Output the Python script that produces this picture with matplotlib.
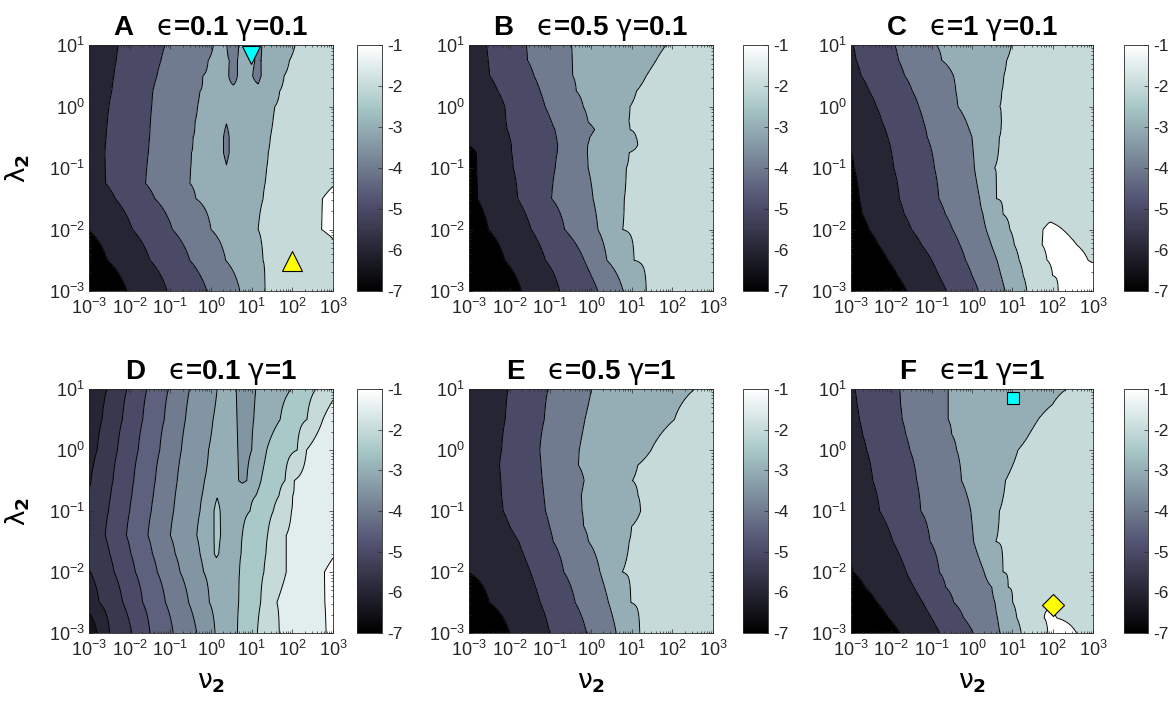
#Mapas de contorno (6 paneles) de log10 del error en el plano nu2 - lambda2
#cada fila de nudos: (log10 nu2, valor) leido del grafico a una altura log10 lambda2 fija

import numpy as np #para operaciones con arreglos
import matplotlib.pyplot as plt #para graficar
from matplotlib import cm, colors, ticker #colores, barras de color y ticks

plt.rcParams['font.family'] = ['Liberation Sans', 'DejaVu Sans']
plt.rcParams['mathtext.fontset'] = 'dejavusans' #letras griegas (los ticks usan \mathdefault -> Liberation Sans)
plt.rcParams['axes.unicode_minus'] = False

#niveles de contorno
niveles_1 = [-6, -5, -4, -3, -2, -1] #paneles A, B, C, E, F
niveles_05 = [-6.5, -6, -5.5, -5, -4.5, -4, -3.5, -3, -2.5, -2, -1.5, -1] #panel D

#---------------- Panel A (eps=0.1, gamma=0.1)
A_y = [1.0, 0.75, 0.5, 0.25, 0.0, -0.25, -0.5, -0.75, -1.0, -1.25, -1.5, -2.0, -2.5, -3.0]
A_nudos = [
    [(-3, -5.63), (-2.28, -5), (-1.13, -4), (0.06, -3), (0.28, -2.88), (0.39, -3), (0.55, -3.5), (0.68, -3), (0.86, -2.75), (1.04, -3), (1.15, -3.45), (1.25, -3), (1.5, -2.6), (2.07, -2), (3, -1.5)],
    [(-3, -5.6), (-2.33, -5), (-1.23, -4), (-0.07, -3), (0.3, -2.88), (0.45, -3), (0.55, -3.4), (0.65, -3), (0.86, -2.72), (1.08, -3), (1.16, -3.35), (1.23, -3), (1.5, -2.55), (1.93, -2), (3, -1.45)],
    [(-3, -5.55), (-2.39, -5), (-1.33, -4), (-0.20, -3), (0.38, -2.9), (0.55, -3.2), (0.8, -2.7), (1.16, -3.18), (1.42, -2.55), (1.80, -2), (3, -1.4)],
    [(-3, -5.5), (-2.44, -5), (-1.43, -4), (-0.27, -3), (0.55, -2.9), (1.16, -2.88), (1.69, -2), (3, -1.35)],
    [(-3, -5.47), (-2.51, -5), (-1.46, -4), (-0.33, -3), (1.57, -2), (3, -1.3)],
    [(-3, -5.45), (-2.55, -5), (-1.49, -4), (-0.39, -3), (0.25, -2.75), (0.38, -2.97), (0.5, -2.75), (1.52, -2), (3, -1.3)],
    [(-3, -5.42), (-2.58, -5), (-1.51, -4), (-0.44, -3), (0.25, -2.88), (0.38, -3.15), (0.5, -2.88), (1.46, -2), (3, -1.3)],
    [(-3, -5.4), (-2.61, -5), (-1.54, -4), (-0.48, -3), (0.25, -2.88), (0.38, -3.15), (0.5, -2.88), (1.41, -2), (3, -1.3)],
    [(-3, -5.39), (-2.60, -5), (-1.58, -4), (-0.50, -3), (0.25, -2.8), (0.38, -2.97), (0.5, -2.8), (1.37, -2), (3, -1.28)],
    [(-3, -5.4), (-2.59, -5), (-1.61, -4), (-0.52, -3), (1.33, -2), (3, -1.05)],
    [(-3, -5.67), (-2.35, -5), (-1.38, -4), (-0.37, -3), (1.28, -2), (2.74, -1), (3, -0.85)],
    [(-3, -5.97), (-1.93, -5), (-0.95, -4), (0.0, -3), (1.16, -2), (2.72, -1), (3, -0.85)],
    [(-3, -6.45), (-2.55, -6), (-1.50, -5), (-0.52, -4), (0.36, -3), (1.28, -2), (3, -1.2)],
    [(-3, -6.9), (-2.07, -6), (-1.08, -5), (-0.10, -4), (0.71, -3), (1.33, -2), (3, -1.3)],
]

#---------------- Panel B (eps=0.5, gamma=0.1)
B_y = [1.0, 0.75, 0.5, 0.25, 0.0, -0.25, -0.375, -0.5, -0.625, -0.75, -1.0, -1.5, -2.0, -2.5, -3.0]
B_nudos = [
    [(-3, -5.45), (-2.57, -5), (-1.59, -4), (-0.48, -3), (1.85, -2), (3, -1.5)],
    [(-3, -5.47), (-2.53, -5), (-1.56, -4), (-0.46, -3), (1.60, -2), (3, -1.45)],
    [(-3, -5.5), (-2.49, -5), (-1.40, -4), (-0.45, -3), (1.36, -2), (3, -1.4)],
    [(-3, -5.65), (-2.29, -5), (-1.25, -4), (-0.36, -3), (1.12, -2), (3, -1.4)],
    [(-3, -5.85), (-2.12, -5), (-1.13, -4), (-0.19, -3), (0.96, -2), (3, -1.35)],
    [(-3, -5.9), (-2.09, -5), (-0.97, -4), (-0.07, -3), (0.93, -2), (3, -1.35)],
    [(-3, -5.92), (-2.06, -5), (-0.89, -4), (0.09, -3), (0.96, -2), (3, -1.35)],
    [(-3, -5.95), (-2.0, -5), (-0.85, -4), (-0.03, -3), (1.11, -2), (3, -1.35)],
    [(-3, -5.99), (-1.96, -5), (-0.82, -4), (-0.08, -3), (1.15, -2), (3, -1.35)],
    [(-3, -6.2), (-2.82, -6), (-1.95, -5), (-0.83, -4), (-0.09, -3), (0.94, -2), (3, -1.35)],
    [(-3, -6.2), (-2.81, -6), (-1.91, -5), (-0.88, -4), (-0.07, -3), (0.87, -2), (3, -1.35)],
    [(-3, -6.2), (-2.79, -6), (-1.80, -5), (-0.97, -4), (0.05, -3), (0.82, -2), (3, -1.4)],
    [(-3, -6.45), (-2.52, -6), (-1.47, -5), (-0.65, -4), (0.17, -3), (0.78, -2), (3, -1.4)],
    [(-3, -6.85), (-2.12, -6), (-1.12, -5), (-0.17, -4), (0.39, -3), (1.06, -2), (3, -1.45)],
    [(-3, -7.3), (-1.71, -6), (-0.77, -5), (0.17, -4), (0.79, -3), (1.36, -2), (3, -1.5)],
]

#---------------- Panel C (eps=1, gamma=0.1)
C_y = [1.0, 0.75, 0.5, 0.25, 0.0, -0.25, -0.5, -1.0, -1.5, -1.75, -2.0, -2.25, -2.5, -2.75, -3.0]
C_nudos = [
    [(-3, -5.05), (-2.94, -5), (-1.91, -4), (-0.88, -3), (0.98, -2), (3, -1.4)],
    [(-3, -5.1), (-2.87, -5), (-1.82, -4), (-0.75, -3), (0.86, -2), (3, -1.4)],
    [(-3, -5.25), (-2.75, -5), (-1.67, -4), (-0.46, -3), (0.79, -2), (3, -1.4)],
    [(-3, -5.45), (-2.55, -5), (-1.48, -4), (-0.40, -3), (0.74, -2), (3, -1.4)],
    [(-3, -5.6), (-2.37, -5), (-1.32, -4), (-0.35, -3), (0.69, -2), (3, -1.4)],
    [(-3, -5.75), (-2.23, -5), (-1.20, -4), (-0.14, -3), (0.73, -2), (3, -1.4)],
    [(-3, -5.9), (-2.09, -5), (-1.11, -4), (0.0, -3), (0.68, -2), (3, -1.4)],
    [(-3, -6.08), (-2.92, -6), (-1.94, -5), (-0.93, -4), (0.06, -3), (0.56, -2), (3, -1.4)],
    [(-3, -6.2), (-2.79, -6), (-1.80, -5), (-0.82, -4), (0.19, -3), (0.61, -2), (3, -1.35)],
    [(-3, -6.25), (-2.72, -6), (-1.68, -5), (-0.66, -4), (0.27, -3), (0.77, -2), (1.9, -1.2), (3, -1.5)],
    [(-3, -6.4), (-2.55, -6), (-1.50, -5), (-0.48, -4), (0.35, -3), (0.94, -2), (1.76, -1), (1.95, -0.85), (2.25, -1), (3, -1.5)],
    [(-3, -6.6), (-2.32, -6), (-1.25, -5), (-0.30, -4), (0.48, -3), (1.05, -2), (1.74, -1), (2.1, -0.7), (2.60, -1), (3, -1.2)],
    [(-3, -6.85), (-2.09, -6), (-1.0, -5), (-0.16, -4), (0.62, -3), (1.17, -2), (1.86, -1), (2.4, -0.7), (2.88, -1), (3, -1.05)],
    [(-3, -7.1), (-1.85, -6), (-0.82, -5), (0.0, -4), (0.72, -3), (1.27, -2), (2.0, -1), (3, -0.8)],
    [(-3, -7.3), (-1.62, -6), (-0.63, -5), (0.16, -4), (0.82, -3), (1.36, -2), (2.14, -1), (3, -0.7)],
]

#---------------- Panel D (eps=0.1, gamma=1), niveles cada 0.5
D_y = [1.0, 0.5, 0.0, -0.5, -0.75, -1.0, -1.4, -1.7, -2.0, -2.5, -3.0]
D_nudos = [
    [(-3, -5.94), (-2.56, -5.5), (-2.07, -5), (-1.58, -4.5), (-1.05, -4), (-0.53, -3.5), (0.15, -3), (0.45, -2.9), (0.62, -3.0), (0.85, -3.25), (1.1, -3.0), (1.3, -2.85), (1.98, -2.5), (2.58, -2), (3, -1.65)],
    [(-3, -5.82), (-2.68, -5.5), (-2.18, -5), (-1.68, -4.5), (-1.15, -4), (-0.63, -3.5), (0.05, -3), (0.45, -2.88), (0.64, -3.0), (0.82, -3.22), (1.05, -3.0), (1.25, -2.85), (1.70, -2.5), (2.36, -2), (2.75, -1.5), (3, -1.35)],
    [(-3, -5.7), (-2.80, -5.5), (-2.30, -5), (-1.79, -4.5), (-1.26, -4), (-0.73, -3.5), (-0.06, -3), (0.45, -2.85), (0.66, -3.0), (0.8, -3.18), (1.0, -3.0), (1.18, -2.8), (1.37, -2.5), (2.12, -2), (2.35, -1.5), (3, -1.2)],
    [(-3, -5.55), (-2.95, -5.5), (-2.41, -5), (-1.90, -4.5), (-1.37, -4), (-0.83, -3.5), (-0.16, -3), (0.5, -2.85), (0.68, -3.0), (0.77, -3.1), (0.88, -3.0), (1.0, -2.85), (1.23, -2.5), (1.82, -2), (2.05, -1.5), (3, -1.2)],
    [(-3, -5.48), (-2.47, -5), (-1.95, -4.5), (-1.42, -4), (-0.88, -3.5), (-0.22, -3), (-0.02, -2.9), (0.15, -2.55), (0.32, -2.85), (1.10, -2.5), (1.67, -2), (2.01, -1.5), (3, -1.18)],
    [(-3, -5.4), (-2.52, -5), (-2.0, -4.5), (-1.47, -4), (-0.92, -3.5), (-0.27, -3), (-0.02, -2.75), (0.15, -2.3), (0.32, -2.75), (0.96, -2.5), (1.53, -2), (1.98, -1.5), (3, -1.17)],
    [(-3, -5.3), (-2.6, -5), (-2.08, -4.5), (-1.55, -4), (-1.0, -3.5), (-0.35, -3), (-0.02, -2.75), (0.15, -2.3), (0.32, -2.7), (0.77, -2.5), (1.39, -2), (1.85, -1.5), (3, -1.15)],
    [(-3, -5.4), (-2.49, -5), (-1.97, -4.5), (-1.44, -4), (-0.88, -3.5), (-0.27, -3), (-0.02, -2.75), (0.13, -2.38), (0.3, -2.72), (0.74, -2.5), (1.35, -2), (1.85, -1.5), (3, -1.03)],
    [(-3, -5.52), (-2.38, -5), (-1.86, -4.5), (-1.32, -4), (-0.76, -3.5), (-0.18, -3), (0.70, -2.5), (1.30, -2), (1.85, -1.5), (2.79, -1), (3, -0.93)],
    [(-3, -5.75), (-2.75, -5.5), (-2.17, -5), (-1.68, -4.5), (-1.12, -4), (-0.55, -3.5), (-0.04, -3), (0.68, -2.5), (1.22, -2), (1.62, -1.5), (2.80, -1), (3, -0.92)],
    [(-3, -6.3), (-2.8, -6), (-2.49, -5.5), (-1.95, -5), (-1.50, -4.5), (-0.93, -4), (-0.35, -3.5), (0.10, -3), (0.65, -2.5), (1.14, -2), (1.68, -1.5), (2.83, -1), (3, -0.92)],
]

#---------------- Panel E (eps=0.5, gamma=1)
E_y = [1.0, 0.5, 0.0, -0.25, -0.5, -0.75, -1.0, -1.25, -1.5, -2.0, -2.5, -3.0]
E_nudos = [
    [(-3, -5.95), (-2.04, -5), (-1.06, -4), (0.01, -3), (2.55, -2), (3, -1.8)],
    [(-3, -5.9), (-2.11, -5), (-1.15, -4), (-0.15, -3), (2.05, -2), (3, -1.6)],
    [(-3, -5.8), (-2.2, -5), (-1.26, -4), (-0.29, -3), (1.48, -2), (3, -1.4)],
    [(-3, -5.75), (-2.25, -5), (-1.23, -4), (-0.31, -3), (1.15, -2), (3, -1.4)],
    [(-3, -5.78), (-2.22, -5), (-1.20, -4), (-0.17, -3), (1.02, -2), (3, -1.4)],
    [(-3, -5.8), (-2.20, -5), (-1.16, -4), (-0.24, -3), (1.16, -2), (3, -1.4)],
    [(-3, -5.82), (-2.16, -5), (-1.12, -4), (-0.22, -3), (1.22, -2), (3, -1.4)],
    [(-3, -5.85), (-2.0, -5), (-1.02, -4), (-0.18, -3), (1.0, -2), (3, -1.4)],
    [(-3, -5.9), (-1.78, -5), (-0.93, -4), (-0.06, -3), (0.94, -2), (3, -1.4)],
    [(-3, -5.98), (-1.49, -5), (-0.67, -4), (0.22, -3), (0.77, -2), (3, -1.4)],
    [(-3, -6.5), (-2.5, -6), (-1.25, -5), (-0.39, -4), (0.43, -3), (0.98, -2), (3, -1.4)],
    [(-3, -6.95), (-2.0, -6), (-1.02, -5), (-0.11, -4), (0.62, -3), (1.20, -2), (3, -1.4)],
]

#---------------- Panel F (eps=1, gamma=1)
F_y = [1.0, 0.75, 0.5, 0.25, 0.0, -0.5, -1.0, -1.5, -2.0, -2.25, -2.5, -2.75, -3.0]
F_nudos = [
    [(-3, -5.09), (-2.90, -5), (-1.79, -4), (-0.59, -3), (2.34, -2), (3, -1.7)],
    [(-3, -5.14), (-2.85, -5), (-1.77, -4), (-0.59, -3), (2.0, -2), (3, -1.6)],
    [(-3, -5.19), (-2.79, -5), (-1.73, -4), (-0.59, -3), (1.64, -2), (3, -1.5)],
    [(-3, -5.27), (-2.71, -5), (-1.64, -4), (-0.50, -3), (1.41, -2), (3, -1.45)],
    [(-3, -5.35), (-2.61, -5), (-1.54, -4), (-0.38, -3), (1.14, -2), (3, -1.4)],
    [(-3, -5.5), (-2.46, -5), (-1.37, -4), (-0.26, -3), (0.83, -2), (3, -1.4)],
    [(-3, -5.65), (-2.29, -5), (-1.27, -4), (-0.03, -3), (0.68, -2), (3, -1.4)],
    [(-3, -5.8), (-1.96, -5), (-1.04, -4), (0.04, -3), (0.59, -2), (3, -1.4)],
    [(-3, -6.04), (-2.95, -6), (-1.63, -5), (-0.81, -4), (0.30, -3), (0.77, -2), (3, -1.4)],
    [(-3, -6.3), (-2.65, -6), (-1.44, -5), (-0.65, -4), (0.49, -3), (0.90, -2), (3, -1.35)],
    [(-3, -6.55), (-2.36, -6), (-1.22, -5), (-0.45, -4), (0.57, -3), (1.01, -2), (1.78, -1.03), (2.4, -1.3), (3, -1.3)],
    [(-3, -6.8), (-2.08, -6), (-1.01, -5), (-0.21, -4), (0.63, -3), (1.11, -2), (1.79, -1), (1.95, -0.9), (2.1, -1), (3, -1.25)],
    [(-3, -7.1), (-1.79, -6), (-0.80, -5), (0.03, -4), (0.69, -3), (1.22, -2), (1.88, -1), (2.2, -0.8), (2.59, -1), (3, -1.2)],
]

#marcadores (nu2, lambda2)
A_cian = (9.7, 6.9)        #triangulo hacia abajo
A_amarillo = (98, 3.1e-3)  #triangulo hacia arriba
F_cian = (10.5, 7.2)       #cuadrado
F_amarillo = (102, 2.9e-3) #rombo

titulos = ['A   $\\mathrm{ϵ}$=0.1 $\\mathrm{γ}$=0.1', 'B   $\\mathrm{ϵ}$=0.5 $\\mathrm{γ}$=0.1',
           'C   $\\mathrm{ϵ}$=1 $\\mathrm{γ}$=0.1', 'D   $\\mathrm{ϵ}$=0.1 $\\mathrm{γ}$=1',
           'E   $\\mathrm{ϵ}$=0.5 $\\mathrm{γ}$=1', 'F   $\\mathrm{ϵ}$=1 $\\mathrm{γ}$=1']

lx = np.linspace(-3, 3, 601) #malla fina en log10(nu2)

def campo(filas_y, nudos): #arma la tabla Z que necesita contourf a partir de los nudos de cada fila
    Z = np.array([np.interp(lx, [p[0] for p in fila], [p[1] for p in fila]) for fila in nudos])
    return 10**lx, 10**np.array(filas_y), Z

bone = plt.get_cmap('bone')
def colores(niveles): #cada banda toma el color de su nivel inferior (como MATLAB)
    bajos = [-7] + niveles
    return [bone(min(max((v + 7) / 6, 0), 1)) for v in bajos]

#posiciones en pixeles (figura de 1172x710)
W, H = 1172, 710
columnas = [(89, 333, 357, 382), (469, 713, 743, 768), (851, 1093, 1124, 1148)]
filas_px = [(45, 291), (389, 633)]
def rect(x0, x1, y0, y1):
    return [x0 / W, 1 - y1 / H, (x1 - x0) / W, (y1 - y0) / H]

gris = '#262626'
fig = plt.figure(figsize=(W / 100, H / 100), dpi=100)

paneles = [(A_y, A_nudos, niveles_1), (B_y, B_nudos, niveles_1), (C_y, C_nudos, niveles_1),
           (D_y, D_nudos, niveles_05), (E_y, E_nudos, niveles_1), (F_y, F_nudos, niveles_1)]

ejes = []
for i, (fy, nudos, niveles) in enumerate(paneles):
    r, c = divmod(i, 3)
    x0, x1, cx0, cx1 = columnas[c]
    y0, y1 = filas_px[r]
    ax = fig.add_axes(rect(x0, x1, y0, y1))
    X, Y, Z = campo(fy, nudos)
    ax.contourf(X, Y, Z, levels=[-100] + niveles + [100], colors=colores(niveles))
    ax.contour(X, Y, Z, levels=niveles, colors='k', linewidths=0.7, linestyles='solid')
    ax.set_xscale('log')
    ax.set_yscale('log')
    ax.set_xlim(1e-3, 1e3)
    ax.set_ylim(1e-3, 1e1)
    ax.set_xticks([10.0**k for k in range(-3, 4)])
    ax.set_yticks([10.0**k for k in range(-3, 2)])
    for eje in (ax.xaxis, ax.yaxis):
        eje.set_minor_locator(ticker.LogLocator(base=10, subs=np.arange(2, 10), numticks=100))
        eje.set_minor_formatter(ticker.NullFormatter())
    ax.tick_params(which='both', direction='in', top=True, right=True, color=gris, labelcolor=gris, width=0.5)
    ax.tick_params(which='major', length=3, labelsize=13)
    ax.tick_params(axis='x', which='major', pad=5)
    ax.tick_params(axis='y', which='major', pad=3)
    ax.tick_params(which='minor', length=1.5)
    for s in ax.spines.values():
        s.set_linewidth(0.6)
        s.set_color(gris)
    ax.set_title(titulos[i], fontsize=20, fontweight='bold', pad=7)
    if c == 0:
        ax.set_ylabel('$\\mathrm{λ}_\\mathbf{2}$', fontsize=19, labelpad=12)
    if r == 1:
        ax.set_xlabel('$\\mathrm{ν}_\\mathbf{2}$', fontsize=19, labelpad=8)
    #barra de color
    cax = fig.add_axes(rect(cx0, cx1, y0, y1))
    sm = cm.ScalarMappable(norm=colors.Normalize(-7, -1), cmap='bone')
    cb = fig.colorbar(sm, cax=cax, ticks=np.arange(-7, 0))
    cb.ax.tick_params(direction='in', length=3, width=0.5, labelsize=12.5, color=gris, labelcolor=gris, pad=4)
    cb.outline.set_linewidth(0.6)
    cb.outline.set_edgecolor(gris)
    ejes.append(ax)

#marcadores de los paneles A y F
ejes[0].plot(*A_cian, marker='v', ms=13, mfc='cyan', mec='k', mew=0.8, ls='none', clip_on=False)
ejes[0].plot(*A_amarillo, marker='^', ms=15, mfc='yellow', mec='k', mew=0.8, ls='none')
ejes[5].plot(*F_cian, marker='s', ms=9, mfc='cyan', mec='k', mew=0.8, ls='none')
ejes[5].plot(*F_amarillo, marker='D', ms=11, mfc='yellow', mec='k', mew=0.8, ls='none')

plt.savefig('out.png', dpi=100)
